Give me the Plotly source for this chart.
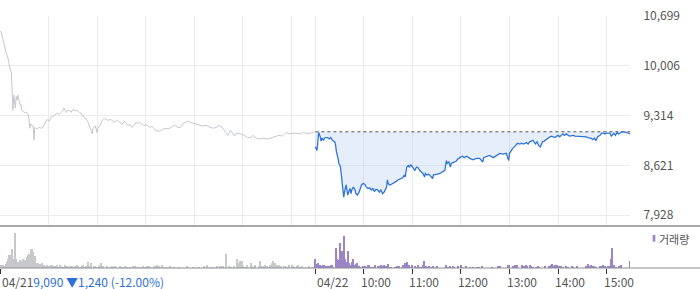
import plotly.graph_objects as go

# ---------------- data ----------------
SESSION_MIN = 390  # 09:00-15:30
prev_close = 9090
close_text = "9,090 ▼1,240 (-12.00%)"
day1_label = "04/21"
day2_label = "04/22"
hour_labels = ["10:00", "11:00", "12:00", "13:00", "14:00", "15:00"]
hour_minutes = [60, 120, 180, 240, 300, 360]
y_ticks = [7928, 8621, 9314, 10006, 10699]

# Day 1 (04/21): minutes after 09:00, price
d1_min = [0, 1, 2, 4, 5, 6, 7, 9, 10, 11, 12, 14, 15, 16, 17, 19, 20, 21, 22, 24, 25, 26, 27, 30, 32, 35, 36, 37,
          38, 40, 41, 42, 43, 46, 48, 51, 53, 56, 58, 61, 63, 66, 68, 71, 73, 76, 78, 79, 82, 84, 87, 88, 90, 93,
          95, 98, 100, 102, 104, 106, 109, 111, 113, 114, 115, 118, 120, 121, 124, 126, 129, 131, 134, 136, 139,
          141, 144, 146, 149, 151, 154, 156, 158, 161, 163, 166, 168, 171, 173, 176, 178, 181, 183, 186, 188, 192,
          196, 198, 202, 206, 210, 214, 217, 220, 223, 227, 230, 233, 235, 239, 243, 248, 251, 255, 260, 264, 267,
          271, 275, 279, 282, 285, 287, 290, 292, 295, 298, 302, 306, 310, 313, 317, 321, 324, 328, 332, 334, 338,
          342, 345, 349, 352, 354, 358, 361, 365, 369, 371, 374, 378, 384, 387, 389]
d1_price = [10480, 10490, 10450, 10370, 10300, 10270, 10210, 10160, 10110, 10040, 9980, 9920, 9640, 9390, 9600,
            9420, 9580, 9530, 9600, 9500, 9460, 9470, 9390, 9360, 9360, 9330, 9180, 9140, 9200, 9170, 9180, 8970,
            9150, 9130, 9150, 9140, 9150, 9220, 9260, 9240, 9290, 9310, 9330, 9350, 9330, 9360, 9390, 9420, 9360,
            9390, 9380, 9360, 9400, 9380, 9390, 9360, 9350, 9320, 9290, 9280, 9220, 9150, 9110, 9060, 9140, 9170,
            9080, 9140, 9180, 9240, 9280, 9260, 9250, 9260, 9250, 9220, 9250, 9240, 9220, 9190, 9240, 9210, 9180,
            9190, 9150, 9180, 9220, 9210, 9220, 9190, 9180, 9190, 9170, 9150, 9170, 9110, 9100, 9100, 9130, 9130,
            9140, 9170, 9180, 9150, 9150, 9210, 9220, 9240, 9220, 9210, 9190, 9180, 9170, 9180, 9150, 9140, 9150,
            9180, 9150, 9080, 9040, 9110, 9070, 9030, 9070, 9070, 9060, 9040, 9010, 9010, 9040, 9000, 8990, 9000,
            8990, 8990, 9000, 9010, 9030, 9040, 9030, 9060, 9080, 9060, 9070, 9070, 9070, 9060, 9080, 9070, 9070,
            9080, 9090]

# Day 2 (04/22): minutes after 09:00, price
d2_min = [0, 1, 2, 4, 6, 7, 8, 10, 11, 13, 15, 17, 19, 21, 24, 25, 26, 28, 29, 31, 32, 33, 34, 35, 36, 37, 38, 39,
          40, 42, 43, 44, 45, 47, 49, 50, 52, 54, 57, 59, 61, 63, 65, 67, 69, 71, 73, 75, 77, 79, 81, 83, 85, 88,
          89, 90, 92, 94, 96, 98, 100, 102, 104, 106, 108, 110, 111, 113, 115, 116, 118, 120, 123, 125, 127, 129,
          131, 133, 135, 136, 138, 140, 141, 143, 145, 146, 149, 151, 154, 156, 158, 160, 162, 163, 165, 167, 168,
          170, 172, 174, 176, 178, 180, 182, 184, 187, 189, 191, 195, 199, 203, 207, 208, 211, 213, 215, 220, 224,
          226, 228, 232, 236, 238, 239, 240, 242, 244, 246, 248, 250, 253, 255, 257, 261, 263, 265, 269, 271, 272,
          274, 276, 278, 280, 281, 283, 285, 287, 290, 292, 296, 300, 302, 304, 306, 308, 310, 314, 319, 321, 325,
          329, 333, 335, 337, 341, 343, 345, 347, 349, 352, 354, 356, 358, 360, 364, 366, 368, 369, 371, 373, 375,
          377, 379, 381, 383, 385, 387, 389]
d2_price = [8880, 8860, 8830, 9080, 9020, 8960, 9000, 8970, 9000, 9010, 9010, 8990, 9010, 8970, 8950, 8900, 8810,
            8720, 8650, 8600, 8490, 8370, 8300, 8180, 8250, 8320, 8350, 8280, 8210, 8280, 8300, 8230, 8280, 8320,
            8280, 8230, 8210, 8250, 8350, 8370, 8360, 8320, 8300, 8310, 8280, 8300, 8260, 8290, 8280, 8250, 8280,
            8230, 8250, 8320, 8420, 8370, 8350, 8360, 8370, 8380, 8400, 8420, 8430, 8440, 8450, 8490, 8460, 8600,
            8620, 8600, 8630, 8600, 8550, 8600, 8590, 8550, 8530, 8510, 8460, 8510, 8490, 8500, 8490, 8460, 8440,
            8490, 8490, 8500, 8510, 8530, 8540, 8550, 8690, 8650, 8670, 8600, 8650, 8660, 8670, 8680, 8710, 8730,
            8740, 8750, 8730, 8750, 8730, 8720, 8700, 8720, 8720, 8670, 8730, 8740, 8750, 8760, 8730, 8760, 8780,
            8790, 8780, 8790, 8720, 8690, 8790, 8830, 8860, 8880, 8900, 8930, 8920, 8930, 8920, 8940, 8920, 8950,
            8970, 8940, 8920, 8950, 8900, 8880, 8930, 8950, 8960, 8980, 9000, 9020, 9030, 9010, 9040, 9020, 9040,
            9060, 9040, 9060, 9030, 9040, 9030, 9030, 9020, 9030, 9020, 9010, 9000, 8980, 9000, 8970, 9020, 9040,
            9070, 9070, 9060, 9070, 9070, 9030, 9060, 9070, 9040, 9080, 9060, 9080, 9090, 9090, 9090, 9080, 9070,
            9060]

# Volume, day 1
v1_min = [1, 2, 4, 6, 7, 9, 10, 11, 12, 13, 14, 15, 17, 18, 19, 20, 21, 23, 24, 25, 26, 28, 29, 30, 31, 33, 34, 35,
          36, 38, 39, 40, 41, 43, 44, 45, 46, 47, 49, 50, 51, 52, 54, 55, 56, 58, 60, 61, 63, 64, 66, 68, 70, 72,
          74, 76, 78, 80, 83, 85, 87, 89, 91, 93, 95, 97, 99, 101, 103, 105, 107, 109, 111, 112, 113, 116, 118,
          120, 122, 124, 125, 126, 128, 132, 136, 138, 140, 142, 144, 149, 151, 155, 157, 161, 165, 167, 169, 173,
          177, 180, 182, 184, 186, 190, 192, 194, 196, 197, 200, 202, 206, 210, 215, 221, 231, 239, 246, 252, 256,
          260, 264, 268, 272, 274, 276, 280, 283, 286, 289, 293, 295, 297, 299, 301, 303, 305, 310, 312, 314, 316,
          320, 322, 324, 326, 328, 330, 332, 334, 336, 338, 340, 343, 345, 347, 351, 353, 355, 357, 361, 363, 365,
          367, 369, 371, 373, 378, 382, 386, 389]
v1_vol = [27000, 20000, 33000, 13000, 43000, 60000, 93000, 133000, 110000, 77000, 127000, 193000, 93000, 67000,
          353000, 93000, 60000, 43000, 60000, 77000, 67000, 87000, 93000, 60000, 83000, 33000, 110000, 127000,
          143000, 193000, 127000, 193000, 160000, 120000, 93000, 53000, 43000, 53000, 33000, 43000, 27000, 53000,
          27000, 33000, 20000, 27000, 10000, 20000, 27000, 33000, 20000, 17000, 27000, 10000, 27000, 13000, 10000,
          33000, 13000, 10000, 20000, 13000, 10000, 13000, 27000, 13000, 10000, 20000, 27000, 10000, 20000, 60000,
          20000, 10000, 53000, 20000, 13000, 10000, 20000, 27000, 47000, 20000, 13000, 13000, 10000, 13000, 10000,
          13000, 10000, 20000, 10000, 13000, 10000, 10000, 13000, 20000, 10000, 10000, 13000, 10000, 13000, 13000,
          10000, 13000, 20000, 27000, 20000, 13000, 27000, 10000, 7000, 20000, 10000, 10000, 20000, 10000, 10000,
          13000, 27000, 10000, 10000, 13000, 20000, 13000, 20000, 143000, 13000, 10000, 20000, 93000, 53000, 67000,
          67000, 20000, 10000, 27000, 53000, 20000, 10000, 27000, 20000, 67000, 20000, 13000, 33000, 20000, 10000,
          33000, 53000, 67000, 47000, 33000, 27000, 13000, 13000, 20000, 10000, 27000, 33000, 13000, 10000, 20000,
          33000, 10000, 13000, 10000, 13000, 10000, 10000]

# Volume, day 2
v2_min = [0, 1, 2, 3, 4, 6, 7, 9, 11, 13, 15, 17, 19, 21, 22, 25, 26, 27, 28, 29, 31, 32, 33, 35, 36, 37, 38, 40,
          41, 42, 44, 45, 46, 47, 49, 50, 52, 54, 56, 59, 61, 63, 65, 66, 69, 71, 74, 77, 79, 81, 83, 85, 87, 90,
          92, 94, 99, 101, 104, 107, 109, 111, 113, 114, 115, 116, 118, 120, 123, 125, 127, 129, 131, 133, 135,
          137, 139, 141, 143, 145, 149, 151, 161, 164, 166, 170, 172, 176, 180, 182, 186, 191, 195, 200, 203, 206,
          219, 226, 228, 238, 240, 244, 246, 247, 249, 255, 258, 260, 262, 265, 267, 269, 273, 275, 277, 284, 289,
          291, 293, 295, 297, 299, 300, 302, 304, 306, 310, 312, 317, 319, 323, 335, 337, 339, 341, 343, 345, 347,
          352, 354, 356, 358, 360, 362, 364, 366, 367, 369, 372, 376, 378, 389]
v2_vol = [93000, 43000, 33000, 53000, 27000, 33000, 20000, 27000, 33000, 20000, 17000, 20000, 27000, 33000, 10000,
          200000, 110000, 93000, 67000, 77000, 253000, 60000, 167000, 320000, 160000, 93000, 60000, 60000, 167000,
          53000, 33000, 60000, 87000, 33000, 27000, 43000, 53000, 20000, 10000, 20000, 20000, 10000, 27000, 27000,
          10000, 10000, 27000, 20000, 13000, 33000, 20000, 27000, 13000, 43000, 10000, 10000, 10000, 13000, 20000,
          10000, 27000, 53000, 60000, 53000, 33000, 27000, 10000, 33000, 20000, 10000, 27000, 10000, 10000, 27000,
          67000, 20000, 10000, 20000, 10000, 13000, 10000, 13000, 33000, 10000, 20000, 20000, 10000, 13000, 27000,
          10000, 13000, 10000, 10000, 10000, 10000, 20000, 10000, 13000, 13000, 27000, 27000, 13000, 20000, 27000,
          33000, 27000, 20000, 33000, 20000, 33000, 20000, 10000, 10000, 13000, 10000, 13000, 20000, 33000, 43000,
          20000, 33000, 27000, 20000, 13000, 13000, 10000, 13000, 10000, 13000, 10000, 13000, 20000, 43000, 20000,
          33000, 13000, 13000, 10000, 20000, 13000, 27000, 20000, 10000, 13000, 20000, 93000, 200000, 33000, 10000,
          13000, 27000, 67000]

# ---------------- figure ----------------
W, H = 700, 289
ML, MR, MT, MB = 0, 70, 16, 21
PW = W - ML - MR
PH = H - MT - MB
split = (268 - 226) / PH  # top of volume panel (paper)

def px_x(p):
    return (p - ML) / PW

def px_y(p):
    return (H - MB - p) / PH

x_range = [0, 779]
d2_x = [m + SESSION_MIN for m in d2_min]
v2_x = [m + SESSION_MIN for m in v2_min]

font_family = "Noto Sans CJK KR, Noto Sans, sans-serif"
grid_c = "#ebebeb"
label_c = "#555555"
LABEL_Y = 281.3

fig = go.Figure()
fig.add_trace(go.Scatter(x=d1_min, y=d1_price, mode="lines",
                         line=dict(color="#c5c8cd", width=1), xaxis="x", yaxis="y"))
fig.add_trace(go.Scatter(x=d2_x, y=[prev_close] * len(d2_x), mode="lines",
                         line=dict(color="#555555", width=1, dash="dot"), xaxis="x", yaxis="y"))
fig.add_trace(go.Scatter(x=d2_x, y=d2_price, mode="lines",
                         line=dict(color="#2f74d9", width=1.3),
                         fill="tonexty", fillcolor="rgba(175,202,240,0.33)",
                         xaxis="x", yaxis="y"))
fig.add_trace(go.Bar(x=v1_min, y=v1_vol, width=1.5, marker=dict(color="#c6c8cc", line=dict(width=0)),
                     xaxis="x2", yaxis="y2"))
fig.add_trace(go.Bar(x=v2_x, y=v2_vol, width=1.5, marker=dict(color="#9b84c8", line=dict(width=0)),
                     xaxis="x2", yaxis="y2"))

grid_vals = [0] + hour_minutes + [SESSION_MIN] + [m + SESSION_MIN for m in hour_minutes]
tick_vals2 = [0, SESSION_MIN] + [m + SESSION_MIN for m in hour_minutes]

annotations = [
    dict(text=day1_label + "<span style='color:#2f6fd6'>" + close_text + "</span>",
         x=0, xref="paper", y=px_y(LABEL_Y), yref="paper", xanchor="left", yanchor="middle",
         showarrow=False, font=dict(size=12, color=label_c, family=font_family)),
    dict(text=day2_label, x=SESSION_MIN, xref="x2", y=px_y(LABEL_Y), yref="paper",
         xanchor="left", yanchor="middle", showarrow=False,
         font=dict(size=12, color=label_c, family=font_family)),
    dict(text="거래량", x=px_x(657), xref="paper", y=px_y(238.5), yref="paper",
         xanchor="left", yanchor="middle", showarrow=False,
         font=dict(size=11, color=label_c, family=font_family)),
]
for lab, m in zip(hour_labels, hour_minutes):
    annotations.append(dict(text=lab, x=m + SESSION_MIN, xref="x2", y=px_y(LABEL_Y), yref="paper",
                            xanchor="left", yanchor="middle", xshift=-5, showarrow=False,
                            font=dict(size=12, color=label_c, family=font_family)))

shapes = [
    dict(type="line", xref="paper", yref="paper", x0=0, x1=px_x(700), y0=split, y1=split,
         line=dict(color="#8a8d91", width=1.5)),
    dict(type="line", xref="paper", yref="paper", x0=0, x1=px_x(700), y0=0, y1=0,
         line=dict(color="#8a8d91", width=1)),
    dict(type="rect", xref="paper", yref="paper", x0=px_x(652.7), x1=px_x(655.3),
         y0=px_y(241.7), y1=px_y(235), fillcolor="#9b84c8", line=dict(width=0)),
]

fig.update_layout(
    width=W, height=H,
    margin=dict(l=ML, r=MR, t=MT, b=MB, pad=0),
    paper_bgcolor="white", plot_bgcolor="white",
    showlegend=False, hovermode=False, bargap=0,
    font=dict(family=font_family, size=12, color=label_c),
    xaxis=dict(domain=[0, 1], range=x_range, anchor="y", tickvals=grid_vals, showticklabels=False,
               showgrid=True, gridcolor=grid_c, gridwidth=1, zeroline=False, showline=False, ticks=""),
    yaxis=dict(domain=[split, 1], range=[7779, 10701], side="right", anchor="x",
               tickvals=y_ticks, ticktext=[f"{v:,}" for v in y_ticks],
               showgrid=True, gridcolor=grid_c, gridwidth=1, zeroline=False, showline=False,
               ticks="outside", ticklen=10, tickcolor="rgba(0,0,0,0)",
               tickfont=dict(size=12, color=label_c, family=font_family)),
    xaxis2=dict(domain=[0, 1], range=x_range, anchor="y2", tickvals=tick_vals2, showticklabels=False,
                showgrid=False, zeroline=False, showline=False,
                ticks="outside", ticklen=5, tickcolor="#333333", tickwidth=1),
    yaxis2=dict(domain=[0, split], range=[0, 420000], anchor="x2", showgrid=False,
                showticklabels=False, zeroline=False, showline=False, ticks=""),
    annotations=annotations,
    shapes=shapes,
)

fig.write_html("out.html", config={"displayModeBar": False})
